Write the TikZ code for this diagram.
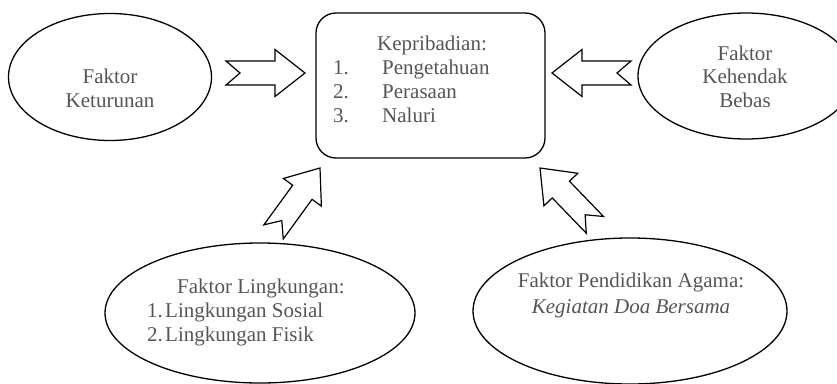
\documentclass[tikz,border=0pt]{standalone}
\usepackage{fontspec}
\setmainfont{Liberation Serif}
\usetikzlibrary{shapes.geometric}
\definecolor{txtgray}{RGB}{85,85,85}
\tikzset{
  txt/.style={text=txtgray, inner sep=0pt, font=\fontsize{21}{24}\selectfont},
  oval/.style={draw, ellipse, line width=1.3pt, inner sep=0pt},
  arrowline/.style={draw, line width=1.2pt, fill=white, line join=miter},
  blockarrow/.pic={\path[arrowline] (0,0) -- (-30,23.5) -- (-30,12) -- (-79,12) -- (-65,0) -- (-79,-12) -- (-30,-12) -- (-30,-23.5) -- cycle;}
}
\begin{document}
\begin{tikzpicture}[x=1pt,y=-1pt]
\clip (0,0) rectangle (837,383);
\fill[white] (0,0) rectangle (837,383);
% main box
\node[draw, line width=1.3pt, rounded corners=20pt, minimum width=229pt, minimum height=145pt, inner sep=0pt] (kep) at (430.5,85.5) {};
\node[txt, anchor=base west] (kep0) at (377,50) {Kepribadian:};
\node[txt, anchor=base west] (kep1n) at (333,74) {1.};
\node[txt, anchor=base west] (kep1) at (382,74) {Pengetahuan};
\node[txt, anchor=base west] (kep2n) at (333,98) {2.};
\node[txt, anchor=base west] (kep2) at (382,98) {Perasaan};
\node[txt, anchor=base west] (kep3n) at (333,122) {3.};
\node[txt, anchor=base west] (kep3) at (382,122) {Naluri};
% left ellipse
\node[oval, minimum width=203pt, minimum height=127pt] (ket) at (110,77) {};
\node[txt, anchor=base] (ket1) at (110,83) {Faktor};
\node[txt, anchor=base] (ket2) at (110,107) {Keturunan};
% right ellipse
\node[oval, minimum width=216pt, minimum height=126pt] (keh) at (746,76) {};
\node[txt, anchor=base] (keh1) at (745,60) {Faktor};
\node[txt, anchor=base] (keh2) at (745,83) {Kehendak};
\node[txt, anchor=base] (keh3) at (745,107) {Bebas};
% bottom left ellipse
\node[oval, minimum width=310pt, minimum height=140pt] (lin) at (260,313) {};
\node[txt, anchor=base west] (lin0) at (177,293) {Faktor Lingkungan:};
\node[txt, anchor=base west] (lin1n) at (147,317) {1.};
\node[txt, anchor=base west] (lin1) at (165,317) {Lingkungan Sosial};
\node[txt, anchor=base west] (lin2n) at (147,341) {2.};
\node[txt, anchor=base west] (lin2) at (165,341) {Lingkungan Fisik};
% bottom right ellipse
\node[oval, minimum width=314pt, minimum height=146pt] (aga) at (630,311) {};
\node[txt, anchor=base] (aga1) at (631,287) {Faktor Pendidikan Agama:};
\node[txt, anchor=base, font=\fontsize{21}{24}\selectfont\itshape] (aga2) at (631,313) {Kegiatan Doa Bersama};
% block arrows
\pic at (305,73) {blockarrow};
\pic[rotate=180] at (552,73) {blockarrow};
\pic[rotate=54] at (320,168) {blockarrow};
\pic[rotate=134] at (540,168) {blockarrow};
\end{tikzpicture}
\end{document}
